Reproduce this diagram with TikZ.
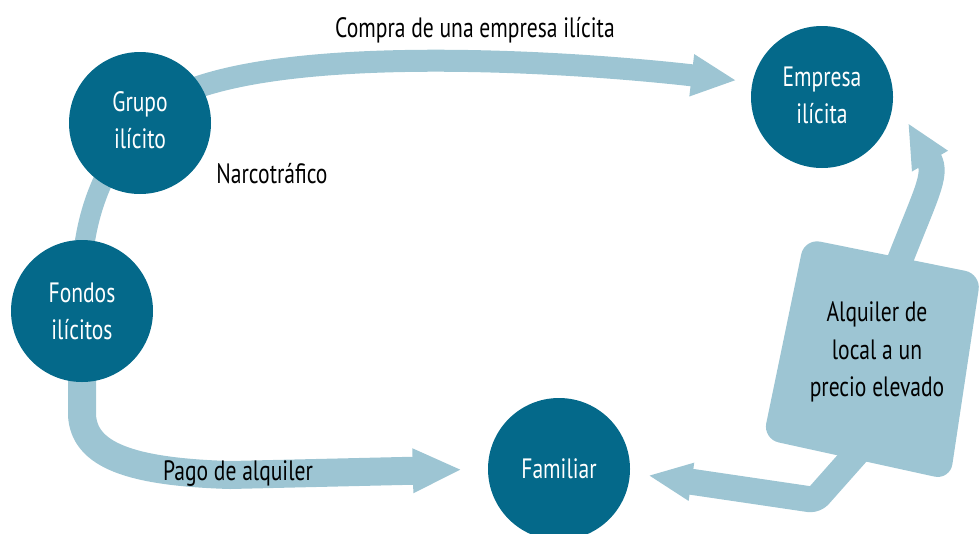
\documentclass[tikz,border=0pt]{standalone}
\usepackage{fontspec}
\setmainfont{PT Sans}[FakeStretch=0.77]
\usetikzlibrary{arrows.meta}
\pgfdeclarelayer{bg}
\pgfsetlayers{bg,main}
\definecolor{dark}{HTML}{04698A}
\definecolor{light}{HTML}{9DC5D3}
\begin{document}
\begin{tikzpicture}[x=1pt,y=-1pt,
  circ/.style={circle, fill=dark, text=white, minimum size=142pt, inner sep=0pt, align=center,
    font=\fontsize{28}{37}\selectfont},
  lbl/.style={text=black, inner sep=0pt, font=\fontsize{28}{37.5}\selectfont},
  band/.style={draw=light, line width=#1, line join=round},
]
\useasboundingbox (0,0) rectangle (979,533);
\clip (0,0) rectangle (979,533);
% nodes
\node[circ] (grupo) at (140,123) {Grupo\\ilícito\vspace{6pt}};
\node[circ] (fondos) at (82,311) {Fondos\\ilícitos};
\node[circ] (empresa) at (822,97) {Empresa\\ilícita\vspace{3pt}};
\node[circ] (familiar) at (559,469) {Familiar};
\node[lbl, anchor=base] (compra) at (475,37) {Compra de una empresa ilícita};
\node[lbl, anchor=base] (narco) at (272,183) {Narcotráfico};
\node[lbl, anchor=base] (pago) at (238,480) {Pago de alquiler};
\node[lbl, align=center] (alq) at (877,352) {Alquiler de\\local a un\\precio elevado};
\coordinate (toemp) at (908,123);
% connectors and box underneath
\begin{pgfonlayer}{bg}
\fill[light, rounded corners=16pt] (804.5,238.5) -- (981,274) -- (950,480) -- (763,439) -- cycle;
\draw[band=20pt] (fondos.center) .. controls (78,240) and (92,180) .. (grupo.center);
\draw[band=22pt, -{Triangle[width=39pt,length=45pt]}, shorten >=16pt]
  (grupo.center) .. controls (200,40) and (540,58) .. (empresa.168);
\draw[band=28pt, -{Triangle[width=41pt,length=49pt]}, shorten >=26pt]
  (fondos.center) -- (82,415) .. controls (84,455) and (130,472) .. (230,475) -- (familiar.west);
\draw[band=26pt, -{Triangle[width=38pt,length=44pt]}]
  (alq.center) -- (897,268) .. controls (925,195) and (938,175) .. (toemp);
\draw[band=26pt, rounded corners=6pt, -{Triangle[width=35pt,length=44pt]}, shorten >=18pt]
  (alq.center) -- (870,438) -- (815,500) -- (familiar.-3);
\end{pgfonlayer}
\end{tikzpicture}
\end{document}
